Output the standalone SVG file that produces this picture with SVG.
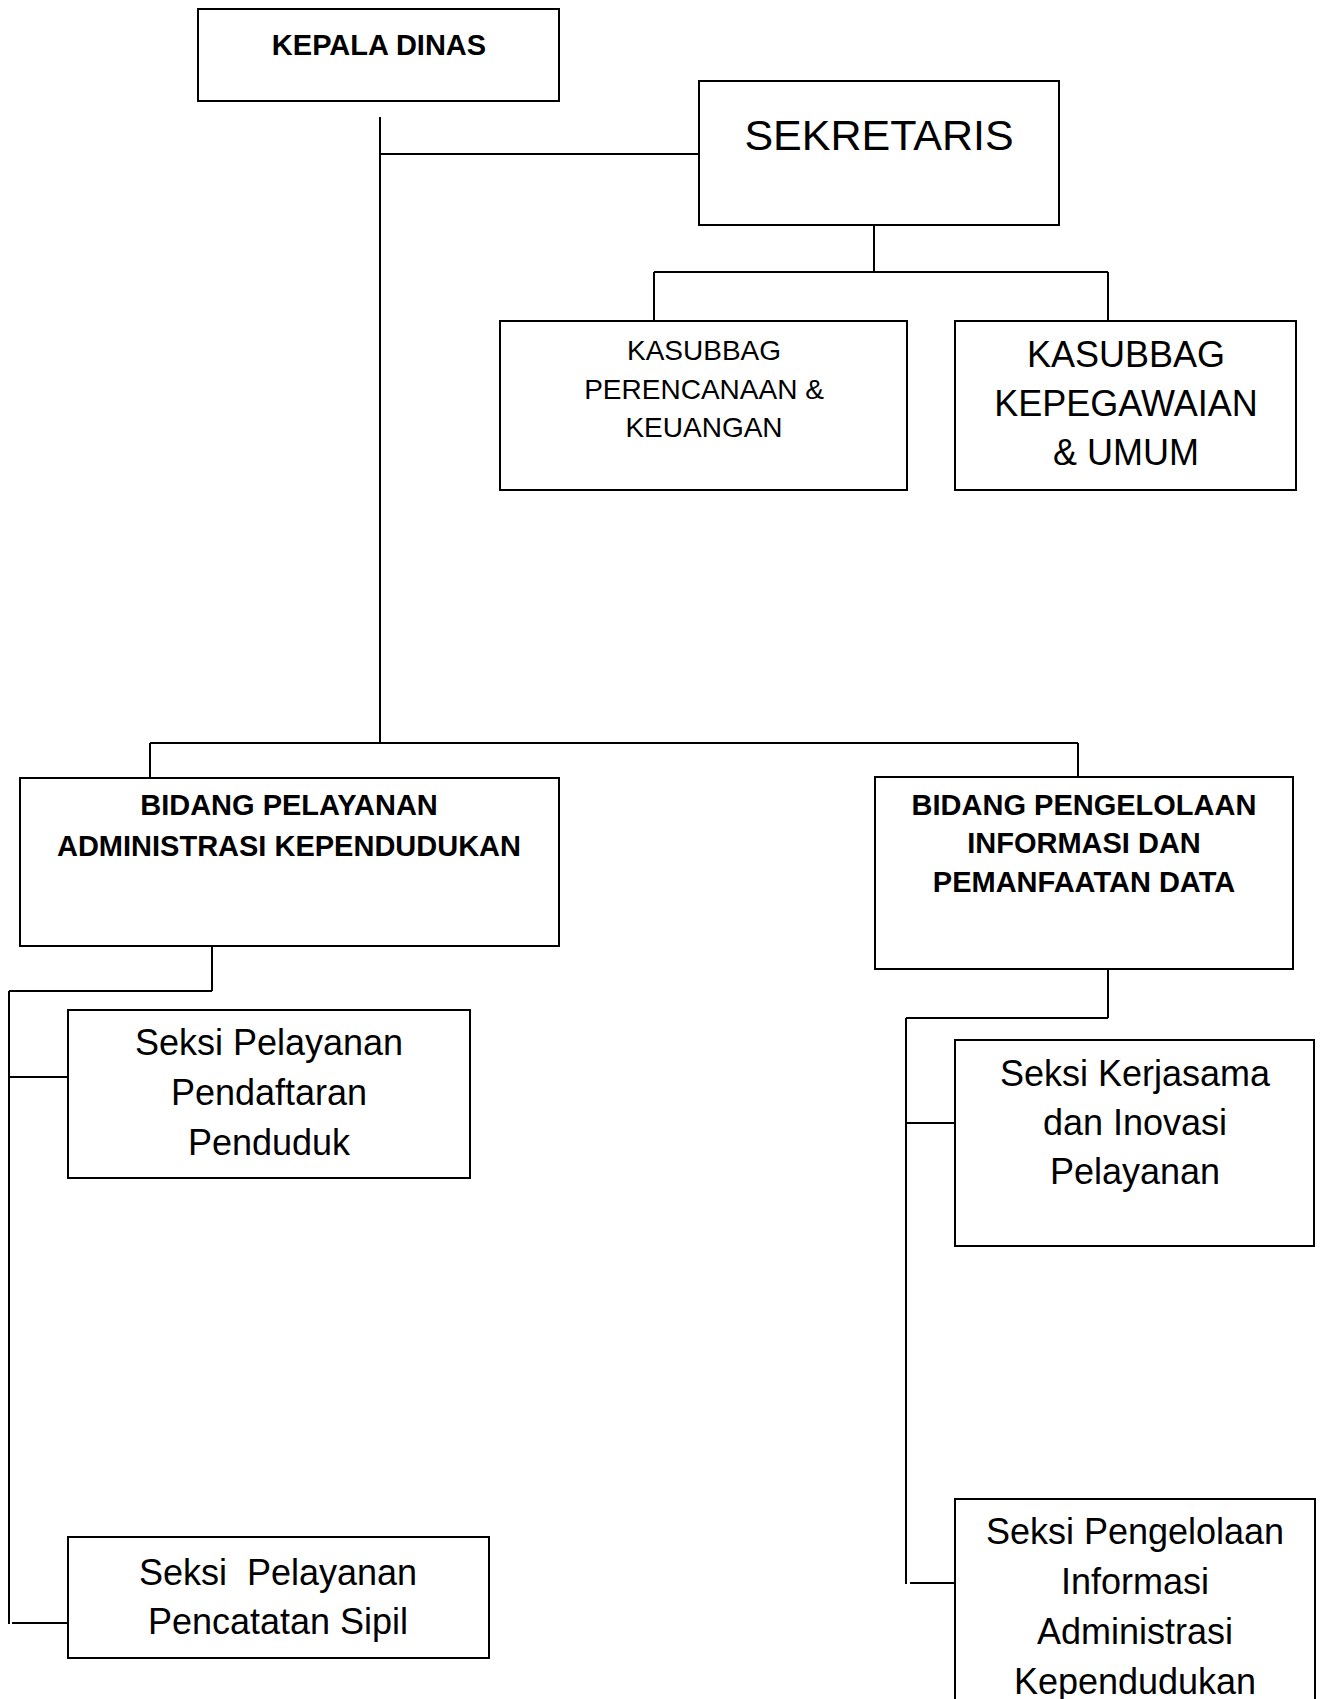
<svg xmlns="http://www.w3.org/2000/svg" width="1323" height="1699" viewBox="0 0 1323 1699">
<style>
.box{fill:#fff;stroke:#000;stroke-width:2}
.ln{stroke:#000;stroke-width:2;fill:none}
.t{font-family:"Liberation Sans",Arial,sans-serif;fill:#000;text-anchor:middle}
.b{font-weight:bold;font-size:29px}
.r36{font-size:36px}
</style>
<rect width="1323" height="1699" fill="#fff"/>
<g id="connectors">
<path class="ln" d="M380 117V743M380 154H699M874 225V272M654 272H1108M654 272V321M1108 272V321M150 743H1078M150 743V778M1078 743V777M212 946V991M9 991H212M9 991V1624M9 1077H68M12 1623H68M1108 969V1018M906 1018H1108M906 1018V1584M906 1123H955M910 1583H958"/>
</g>
<g id="kepala-dinas">
<rect class="box" x="198" y="9" width="361" height="92"/>
<text class="t b" x="379" y="55">KEPALA DINAS</text>
</g>
<g id="sekretaris">
<rect class="box" x="699" y="81" width="360" height="144"/>
<text class="t" style="font-size:43px" x="879" y="150">SEKRETARIS</text>
</g>
<g id="kasubbag-perencanaan">
<rect class="box" x="500" y="321" width="407" height="169"/>
<text class="t" style="font-size:28px" x="704"><tspan x="704" y="360">KASUBBAG</tspan><tspan x="704" y="399">PERENCANAAN &amp;</tspan><tspan x="704" y="437">KEUANGAN</tspan></text>
</g>
<g id="kasubbag-kepegawaian">
<rect class="box" x="955" y="321" width="341" height="169"/>
<text class="t r36" x="1126"><tspan x="1126" y="367">KASUBBAG</tspan><tspan x="1126" y="416">KEPEGAWAIAN</tspan><tspan x="1126" y="465">&amp; UMUM</tspan></text>
</g>
<g id="bidang-pelayanan">
<rect class="box" x="20" y="778" width="539" height="168"/>
<text class="t b" x="289"><tspan x="289" y="815">BIDANG PELAYANAN</tspan><tspan x="289" y="856">ADMINISTRASI KEPENDUDUKAN</tspan></text>
</g>
<g id="bidang-pengelolaan">
<rect class="box" x="875" y="777" width="418" height="192"/>
<text class="t b" x="1084"><tspan x="1084" y="815">BIDANG PENGELOLAAN</tspan><tspan x="1084" y="853">INFORMASI DAN</tspan><tspan x="1084" y="892">PEMANFAATAN DATA</tspan></text>
</g>
<g id="seksi-pendaftaran">
<rect class="box" x="68" y="1010" width="402" height="168"/>
<text class="t r36" x="269"><tspan x="269" y="1055">Seksi Pelayanan</tspan><tspan x="269" y="1105">Pendaftaran</tspan><tspan x="269" y="1155">Penduduk</tspan></text>
</g>
<g id="seksi-pencatatan">
<rect class="box" x="68" y="1537" width="421" height="121"/>
<text class="t r36" x="278" xml:space="preserve"><tspan x="278" y="1585">Seksi  Pelayanan</tspan><tspan x="278" y="1634">Pencatatan Sipil</tspan></text>
</g>
<g id="seksi-kerjasama">
<rect class="box" x="955" y="1040" width="359" height="206"/>
<text class="t r36" x="1135"><tspan x="1135" y="1086">Seksi Kerjasama</tspan><tspan x="1135" y="1135">dan Inovasi</tspan><tspan x="1135" y="1184">Pelayanan</tspan></text>
</g>
<g id="seksi-pengelolaan">
<rect class="box" x="955" y="1499" width="360" height="230"/>
<text class="t r36" x="1135"><tspan x="1135" y="1544">Seksi Pengelolaan</tspan><tspan x="1135" y="1594">Informasi</tspan><tspan x="1135" y="1644">Administrasi</tspan><tspan x="1135" y="1694">Kependudukan</tspan></text>
</g>
</svg>
